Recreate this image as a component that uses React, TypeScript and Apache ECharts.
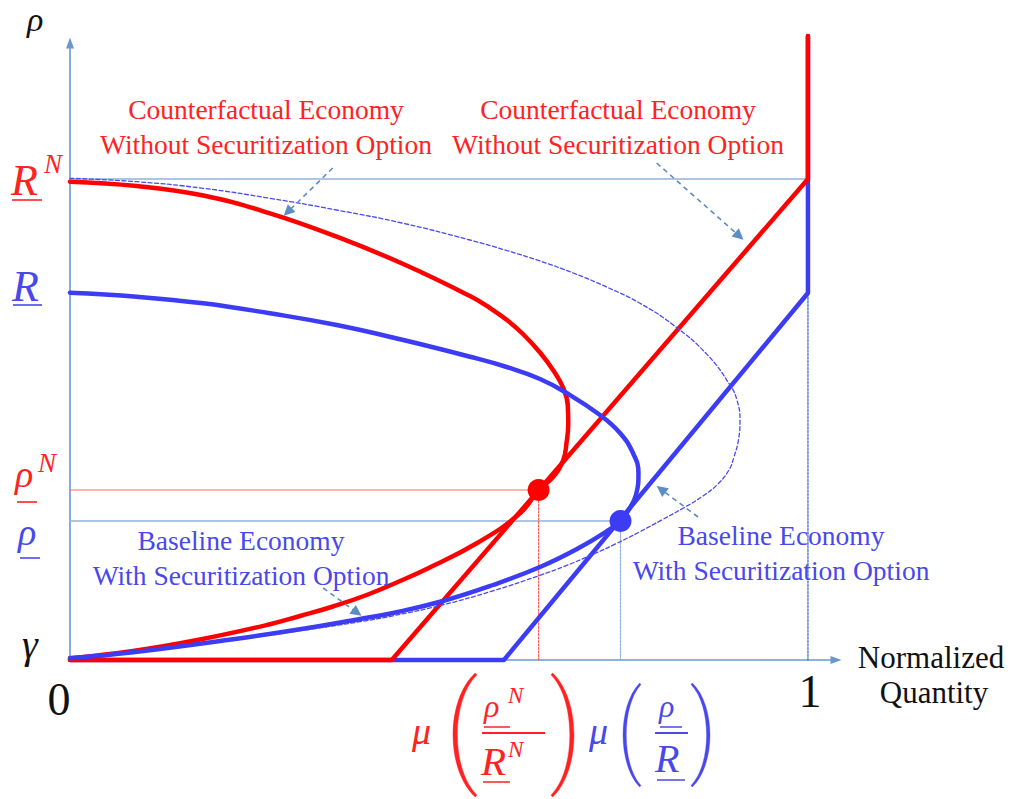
import React, { useEffect, useRef } from "react";
import * as echarts from "echarts";

// ---------- data (x: normalized quantity, y: rate level above γ) ----------
const R_N = 4.81;
const R_LOW = 3.67;
const RHO_N = 1.7;
const RHO = 1.39;
const TOP = 6.24;
const RED_KINK = 0.436;
const BLUE_KINK = 0.588;
const RED_EQ_X = 0.635;
const BLUE_EQ_X = 0.746;

const redSupply = [[0, 0], [RED_KINK, 0], [1, R_N], [1, TOP]];
const blueSupply = [[0, 0], [BLUE_KINK, 0], [1, R_LOW], [1, TOP]];

const redDemand = [
  [0, 4.783], [0.0904, 4.74], [0.1806, 4.645], [0.271, 4.467], [0.3614, 4.233], [0.4516, 3.96],
  [0.542, 3.64], [0.5691, 3.52], [0.5921, 3.4], [0.6138, 3.26], [0.6369, 3.075], [0.6545, 2.9],
  [0.6684, 2.72], [0.6745, 2.55], [0.6752, 2.367], [0.6728, 2.17], [0.6684, 2.0], [0.6545, 1.83],
  [0.635, 1.7], [0.6098, 1.467], [0.5511, 1.167], [0.4833, 0.91], [0.4472, 0.79], [0.402, 0.65],
  [0.3564, 0.535], [0.3117, 0.44], [0.2669, 0.35], [0.1762, 0.205], [0.0854, 0.09], [0, 0.017],
];
const blueDemand = [
  [0, 3.673], [0.0904, 3.633], [0.1806, 3.567], [0.271, 3.467], [0.3614, 3.35], [0.4516, 3.2],
  [0.542, 3.033], [0.5917, 2.93], [0.6369, 2.81], [0.673, 2.67], [0.7182, 2.45], [0.7453, 2.27],
  [0.7629, 2.07], [0.7703, 1.87], [0.7669, 1.65], [0.7561, 1.49], [0.746, 1.39], [0.729, 1.295],
  [0.687, 1.11], [0.6369, 0.93], [0.5732, 0.75], [0.5054, 0.59], [0.4377, 0.47], [0.393, 0.41],
  [0.3117, 0.307], [0.2209, 0.207], [0.0854, 0.077], [0, 0.017],
];
const dashedDemand = [
  [0, 4.817], [0.0904, 4.783], [0.1806, 4.717], [0.271, 4.617], [0.3614, 4.5], [0.4516, 4.367],
  [0.542, 4.2], [0.5917, 4.095], [0.6369, 3.99], [0.682, 3.87], [0.7272, 3.73], [0.7724, 3.567],
  [0.8175, 3.35], [0.8632, 3.056], [0.8943, 2.75], [0.9038, 2.6], [0.9079, 2.4], [0.9058, 2.2],
  [0.8997, 2.03], [0.893, 1.9], [0.878, 1.76], [0.8577, 1.64], [0.832, 1.523], [0.8022, 1.402],
  [0.7724, 1.283], [0.7385, 1.158], [0.7087, 1.057], [0.6707, 0.939], [0.6369, 0.847],
  [0.5732, 0.692], [0.5054, 0.552], [0.4377, 0.442], [0.393, 0.383], [0.3117, 0.293],
  [0.2209, 0.199], [0.0854, 0.079], [0, 0.012],
];

const pointerArrows = [
  [[0.356, 4.92], [0.295, 4.48]],
  [[0.795, 4.97], [0.907, 4.24]],
  [[0.343, 0.72], [0.389, 0.474]],
  [[0.851, 1.43], [0.801, 1.706]],
];

const redLabel = ["Counterfactual Economy", "Without Securitization Option"];
const blueLabel = ["Baseline Economy", "With Securitization Option"];
const xName = ["Normalized", "Quantity"];

// ---------- styles ----------
const RED = "#ff0000";
const BLUE = "#3c3cf4";
const RED_TXT = "#ff2222";
const BLUE_TXT = "#4848ec";
const AXIS = "#6b98cc";
const GUIDE = "#93b3da";
const ARROW = "#5c8cc2";
const SERIF = '"Liberation Serif", "Times New Roman", serif';

// tall math parentheses (local box: x 0..21, y 0..100)
echarts.graphic.registerShape(
  "lparen",
  echarts.graphic.extendPath("M20 0 C3 22 3 78 20 100 L21 98.5 C6 78 6 22 21 1.5 Z", {})
);
echarts.graphic.registerShape(
  "rparen",
  echarts.graphic.extendPath("M1 0 C18 22 18 78 1 100 L0 98.5 C15 78 15 22 0 1.5 Z", {})
);

type Pt = (x: number, y: number) => number[];

function txt(text: string, x: number, base: number, size: number, color: string, o: any = {}) {
  return {
    type: "text",
    x,
    y: base - 0.3375 * size,
    silent: true,
    z: 100,
    style: {
      text,
      x: 0,
      y: 0,
      fill: color,
      fontSize: size,
      fontFamily: SERIF,
      fontStyle: o.italic ? "italic" : "normal",
      align: o.align || "left",
      textAlign: o.align || "left",
      verticalAlign: "middle",
      textVerticalAlign: "middle",
    },
  };
}
function paren(kind: string, left: number, top: number, height: number, width: number, color: string) {
  const sx = width / 13.75;
  const sy = height / 100;
  const offset = kind === "lparen" ? 7.25 * sx : 0;
  return {
    type: kind,
    x: left - offset,
    y: top,
    scaleX: sx,
    scaleY: sy,
    silent: true,
    z: 100,
    style: { fill: color, stroke: color, lineWidth: 0.3 },
  };
}
function uline(x1: number, x2: number, y: number, color: string, w = 1.6) {
  return { type: "line", silent: true, z: 100, shape: { x1, y1: y, x2, y2: y }, style: { stroke: color, lineWidth: w } };
}

function buildGraphics(P: Pt) {
  const yRN = P(0, R_N)[1];
  const yR = P(0, R_LOW)[1];
  const yRhoN = P(0, RHO_N)[1];
  const yRho = P(0, RHO)[1];
  const [x0, y0] = P(0, 0);
  const x1 = P(1, 0)[0];
  const it = { italic: true };
  const g: any[] = [];
  // axis title
  g.push(txt("ρ", 27, 31, 34, "#111", it));
  // R^N
  g.push(txt("R", 11, yRN + 16, 44, RED_TXT, it));
  g.push(txt("N", 44, yRN - 6, 27, RED_TXT, it));
  g.push(uline(12, 42, yRN + 21, RED_TXT));
  // R
  g.push(txt("R", 12, yR + 8, 44, BLUE_TXT, it));
  g.push(uline(13, 42, yR + 12, BLUE_TXT));
  // rho^N
  g.push(txt("ρ", 15, yRhoN - 3, 38, RED_TXT, it));
  g.push(txt("N", 38, yRhoN - 18, 27, RED_TXT, it));
  g.push(uline(17, 37, yRhoN + 12, RED_TXT));
  // rho
  g.push(txt("ρ", 18, yRho + 24, 38, BLUE_TXT, it));
  g.push(uline(20, 40, yRho + 37, BLUE_TXT));
  // gamma, 0, 1
  g.push(txt("γ", 22, y0 - 2, 40, "#111", it));
  g.push(txt("0", x0 - 11, y0 + 55, 46, "#111", { align: "center" }));
  g.push(txt("1", x1 + 2, y0 + 47, 46, "#111", { align: "center" }));
  // axis name
  g.push(txt(xName[0], 931, y0 + 8, 31, "#111", { align: "center" }));
  g.push(txt(xName[1], 934, y0 + 43, 31, "#111", { align: "center" }));
  // annotation labels
  g.push(txt(redLabel[0], 266, 119, 27.5, RED_TXT, { align: "center" }));
  g.push(txt(redLabel[1], 266, 154, 27.5, RED_TXT, { align: "center" }));
  g.push(txt(redLabel[0], 618, 119, 27.5, RED_TXT, { align: "center" }));
  g.push(txt(redLabel[1], 618, 154, 27.5, RED_TXT, { align: "center" }));
  g.push(txt(blueLabel[0], 241, 550, 27.5, BLUE_TXT, { align: "center" }));
  g.push(txt(blueLabel[1], 241, 585, 27.5, BLUE_TXT, { align: "center" }));
  g.push(txt(blueLabel[0], 781, 545, 27.5, BLUE_TXT, { align: "center" }));
  g.push(txt(blueLabel[1], 781, 580, 27.5, BLUE_TXT, { align: "center" }));
  // mu(rho^N / R^N)
  g.push(txt("μ", 412, 744, 38, RED_TXT, it));
  g.push(paren("lparen", 453, 673, 124, 24, RED_TXT));
  g.push(txt("ρ", 484, 717, 32, RED_TXT, it));
  g.push(txt("N", 508, 703, 23, RED_TXT, it));
  g.push(uline(484, 510, 727, RED_TXT, 1.5));
  g.push(uline(482, 545, 733, RED_TXT, 1.8));
  g.push(txt("R", 481, 775, 41, RED_TXT, it));
  g.push(txt("N", 508, 757, 23, RED_TXT, it));
  g.push(uline(483, 510, 782, RED_TXT, 1.5));
  g.push(paren("rparen", 551, 673, 124, 23, RED_TXT));
  // mu(rho / R)
  g.push(txt("μ", 589, 744, 38, BLUE_TXT, it));
  g.push(paren("lparen", 623, 683, 104, 18, BLUE_TXT));
  g.push(txt("ρ", 659, 717, 32, BLUE_TXT, it));
  g.push(uline(660, 682, 727, BLUE_TXT, 1.5));
  g.push(uline(655, 688, 733, BLUE_TXT, 1.8));
  g.push(txt("R", 655, 772, 40, BLUE_TXT, it));
  g.push(uline(657, 685, 780, BLUE_TXT, 1.5));
  g.push(paren("rparen", 691, 683, 104, 19, BLUE_TXT));
  return g;
}

function lineSeries(data: number[][], color: string, width: number, extra: any = {}) {
  return {
    type: "line",
    data,
    showSymbol: false,
    symbol: "none",
    silent: true,
    lineStyle: { color, width, type: extra.type || "solid", cap: "round", join: "round" },
    smooth: extra.smooth ?? false,
    clip: false,
    z: extra.z ?? 2,
  };
}

export default function App() {
  const ref = useRef<HTMLDivElement>(null);
  useEffect(() => {
    const el = ref.current!;
    const chart = echarts.init(el, undefined, { renderer: "svg" });
    const axisLine = {
      show: true,
      symbol: ["none", "triangle"],
      symbolSize: [8, 11],
      lineStyle: { color: AXIS, width: 1.6 },
    };
    chart.setOption({
      animation: false,
      backgroundColor: "#ffffff",
      grid: { left: 70, top: 43, width: 766, height: 617 },
      xAxis: {
        type: "value", min: 0, max: 1.038,
        axisLine, axisTick: { show: false }, axisLabel: { show: false }, splitLine: { show: false },
      },
      yAxis: {
        type: "value", min: 0, max: 6.17,
        axisLine, axisTick: { show: false }, axisLabel: { show: false }, splitLine: { show: false },
      },
      series: [
        lineSeries([[0, R_N], [1, R_N]], GUIDE, 1.3),
        lineSeries([[0, RHO_N], [RED_EQ_X, RHO_N]], "#ff6a6a", 1.1),
        lineSeries([[0, RHO], [BLUE_EQ_X, RHO]], GUIDE, 1.3),
        lineSeries([[RED_EQ_X, 0], [RED_EQ_X, RHO_N]], "#ff5050", 1.1, { type: [2, 1.5] }),
        lineSeries([[BLUE_EQ_X, 0], [BLUE_EQ_X, RHO]], GUIDE, 1.3, { type: [2, 1.5] }),
        lineSeries([[1, 0], [1, R_LOW]], "#4f7fc4", 1.4, { type: [2, 1.5] }),
        lineSeries(blueSupply, BLUE, 4.5, { z: 3 }),
        lineSeries(redSupply, RED, 4.5, { z: 4 }),
        lineSeries(dashedDemand, "#4a4af2", 1.3, { type: [4, 2.5], smooth: 0.45, z: 5 }),
        lineSeries(redDemand, RED, 4.5, { smooth: 0.45, z: 6 }),
        lineSeries(blueDemand, BLUE, 4.5, { smooth: 0.45, z: 7 }),
        {
          type: "scatter", data: [[RED_EQ_X, RHO_N]], symbolSize: 22, silent: true, z: 8,
          itemStyle: { color: RED, opacity: 1 },
        },
        {
          type: "scatter", data: [[BLUE_EQ_X, RHO]], symbolSize: 22, silent: true, z: 8,
          itemStyle: { color: BLUE, opacity: 1 },
        },
        {
          type: "lines", coordinateSystem: "cartesian2d", silent: true, z: 9,
          symbol: ["none", "triangle"], symbolSize: 11,
          lineStyle: { color: ARROW, width: 1.6, type: [5, 4], opacity: 1, curveness: 0 },
          data: pointerArrows.map((c) => ({ coords: c })),
        },
      ],
    });
    const P: Pt = (x, y) => chart.convertToPixel({ gridIndex: 0 }, [x, y]) as number[];
    chart.setOption({ graphic: { elements: buildGraphics(P) } });
    return () => chart.dispose();
  }, []);
  return (
    <div
      ref={ref}
      style={{ position: "fixed", left: 0, top: 0, width: 1018, height: 799, background: "#fff" }}
    />
  );
}
